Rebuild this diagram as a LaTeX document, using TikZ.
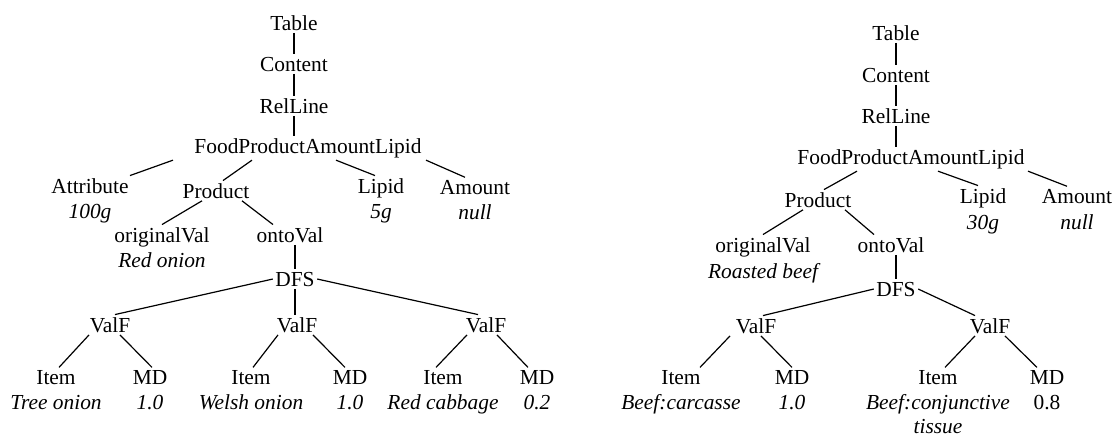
\documentclass[tikz,border=0pt]{standalone}
\usepackage{fontspec}
\setmainfont{Liberation Serif}
\usetikzlibrary{positioning}

\begin{document}
\begin{tikzpicture}[
  x=0.5pt, y=-0.5pt,
  font=\fontsize{10.7}{13.5}\selectfont,
  line width=0.6pt,
  lbl/.style={anchor=base, inner sep=1pt},
  val/.style={lbl, font=\fontsize{10.7}{13.5}\selectfont\itshape}]
\useasboundingbox (0,0) rectangle (1114,435);

% left tree
\node[lbl] (table1) at (294,30) {Table};
\node[lbl] (content1) at (294,71) {Content};
\node[lbl] (relline1) at (294,113) {RelLine};
\node[lbl] (fpal1) at (308,153) {FoodProductAmountLipid};
\node[lbl] (attr1) at (90,193) {Attribute};
\node[val] (attrv1) at ([yshift=-12.5pt]attr1.base) {100g};
\node[lbl] (product1) at (216,198) {Product};
\node[lbl] (lipid1) at (381,193) {Lipid};
\node[val] (lipidv1) at ([yshift=-12.5pt]lipid1.base) {5g};
\node[lbl] (amount1) at (475,194) {Amount};
\node[val] (amountv1) at ([yshift=-12.5pt]amount1.base) {null};
\node[lbl] (orig1) at (162,242) {originalVal};
\node[val] (origv1) at ([yshift=-12.5pt]orig1.base) {Red onion};
\node[lbl] (onto1) at (290,242) {ontoVal};
\node[lbl] (dfs1) at (295,286) {DFS};
\node[lbl] (valfA1) at (110,332) {ValF};
\node[lbl] (valfB1) at (297,332) {ValF};
\node[lbl] (valfC1) at (486,332) {ValF};
\node[lbl] (itemA1) at (56,384) {Item};
\node[val] (itemvA1) at ([yshift=-12.5pt]itemA1.base) {Tree onion};
\node[lbl] (mdA1) at (150,384) {MD};
\node[val] (mdvA1) at ([yshift=-12.5pt]mdA1.base) {1.0};
\node[lbl] (itemB1) at (251,384) {Item};
\node[val] (itemvB1) at ([yshift=-12.5pt]itemB1.base) {Welsh onion};
\node[lbl] (mdB1) at (350,384) {MD};
\node[val] (mdvB1) at ([yshift=-12.5pt]mdB1.base) {1.0};
\node[lbl] (itemC1) at (443,384) {Item};
\node[val] (itemvC1) at ([yshift=-12.5pt]itemC1.base) {Red cabbage};
\node[lbl] (mdC1) at (537,384) {MD};
\node[val] (mdvC1) at ([yshift=-12.5pt]mdC1.base) {0.2};

\draw (table1.south) -- (content1.north);
\draw (content1.south) -- (relline1.north);
\draw (relline1.south) -- (relline1.south |- fpal1.north);
\draw ([xshift=-67.5pt]fpal1.south) -- ([xshift=20pt]attr1.north);
\draw ([xshift=-28pt]fpal1.south) -- ([xshift=3.5pt]product1.north);
\draw ([xshift=14pt]fpal1.south) -- ([xshift=-3pt]lipid1.north);
\draw ([xshift=59pt]fpal1.south) -- ([xshift=-5pt]amount1.north);
\draw ([xshift=-7pt]product1.south) -- (orig1.north);
\draw ([xshift=13pt]product1.south) -- ([xshift=-8.5pt]onto1.north);
\draw (dfs1.north |- onto1.south) -- (dfs1.north);
\draw (dfs1.west) -- ([xshift=2.5pt]valfA1.north);
\draw (dfs1.south) -- (dfs1.south |- valfB1.north);
\draw (dfs1.east) -- ([xshift=-4pt]valfC1.north);
\draw ([xshift=-10.5pt]valfA1.south) -- ([xshift=1.5pt]itemA1.north);
\draw ([xshift=5pt]valfA1.south) -- ([xshift=1pt]mdA1.north);
\draw ([xshift=-9.5pt]valfB1.south) -- ([xshift=1pt]itemB1.north);
\draw ([xshift=8pt]valfB1.south) -- ([xshift=-2.5pt]mdB1.north);
\draw ([xshift=-9.5pt]valfC1.south) -- ([xshift=-3.5pt]itemC1.north);
\draw ([xshift=5.5pt]valfC1.south) -- ([xshift=-4.5pt]mdC1.north);

% right tree
\node[lbl] (table2) at (896,40) {Table};
\node[lbl] (content2) at (896,82) {Content};
\node[lbl] (relline2) at (896,123) {RelLine};
\node[lbl] (fpal2) at (911,164) {FoodProductAmountLipid};
\node[lbl] (product2) at (818,207) {Product};
\node[lbl] (lipid2) at (983,203) {Lipid};
\node[val] (lipidv2) at ([yshift=-13pt]lipid2.base) {30g};
\node[lbl] (amount2) at (1077,203) {Amount};
\node[val] (amountv2) at ([yshift=-13pt]amount2.base) {null};
\node[lbl] (orig2) at (763,252) {originalVal};
\node[val] (origv2) at ([yshift=-13pt]orig2.base) {Roasted beef};
\node[lbl] (onto2) at (891,252) {ontoVal};
\node[lbl] (dfs2) at (896,296) {DFS};
\node[lbl] (valfA2) at (756,333) {ValF};
\node[lbl] (valfB2) at (990,333) {ValF};
\node[lbl] (itemA2) at (681,384) {Item};
\node[val] (itemvA2) at ([yshift=-12.5pt]itemA2.base) {Beef:carcasse};
\node[lbl] (mdA2) at (792,384) {MD};
\node[val] (mdvA2) at ([yshift=-12.5pt]mdA2.base) {1.0};
\node[lbl] (itemB2) at (938,384) {Item};
\node[val] (itemvB2) at ([yshift=-12.5pt]itemB2.base) {\begin{tabular}[t]{@{}c@{}}Beef:conjunctive\\[-1.5pt] tissue\end{tabular}};
\node[lbl] (mdB2) at (1047,384) {MD};
\node[lbl] (mdvB2) at ([yshift=-12.5pt]mdB2.base) {0.8};

\draw (table2.south) -- (content2.north);
\draw (content2.south) -- (relline2.north);
\draw (relline2.south) -- (relline2.south |- fpal2.north);
\draw ([xshift=-27pt]fpal2.south) -- ([xshift=3pt]product2.north);
\draw ([xshift=13.5pt]fpal2.south) -- ([xshift=-2.5pt]lipid2.north);
\draw ([xshift=58.5pt]fpal2.south) -- ([xshift=-5pt]amount2.north);
\draw ([xshift=-7.5pt]product2.south) -- (orig2.north);
\draw ([xshift=13.5pt]product2.south) -- ([xshift=-8.5pt]onto2.north);
\draw (dfs2.north |- onto2.south) -- (dfs2.north);
\draw (dfs2.west) -- ([xshift=3.5pt]valfA2.north);
\draw (dfs2.east) -- ([xshift=-7.5pt]valfB2.north);
\draw ([xshift=-13pt]valfA2.south) -- ([xshift=9.5pt]itemA2.north);
\draw ([xshift=2.5pt]valfA2.south) -- (mdA2.north);
\draw ([xshift=-7.5pt]valfB2.south) -- ([xshift=3.5pt]itemB2.north);
\draw ([xshift=7.5pt]valfB2.south) -- ([xshift=-5pt]mdB2.north);
\end{tikzpicture}
\end{document}
